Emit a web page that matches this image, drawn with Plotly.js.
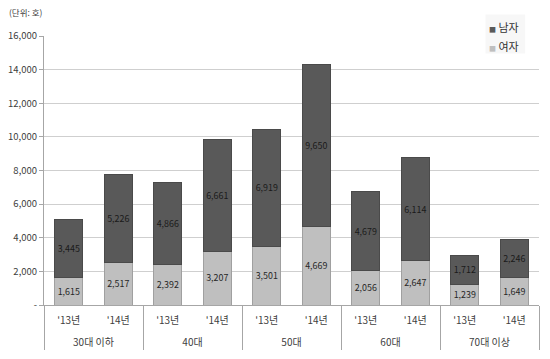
<!DOCTYPE html>
<html>
<head>
<meta charset="utf-8">
<script src="https://cdn.plot.ly/plotly-3.0.1.min.js"></script>
<style>html,body{margin:0;padding:0;background:#fff;}#chart{width:550px;height:359px;}</style>
</head>
<body>
<div id="chart"></div>
<script>
const groups = ['30대 이하','30대 이하','40대','40대','50대','50대','60대','60대','70대 이상','70대 이상'];
const years = ["'13년","'14년","'13년","'14년","'13년","'14년","'13년","'14년","'13년","'14년"];
const female = [1615, 2517, 2392, 3207, 3501, 4669, 2056, 2647, 1239, 1649];
const male = [3445, 5226, 4866, 6661, 6919, 9650, 4679, 6114, 1712, 2246];
const yTickVals = [0, 2000, 4000, 6000, 8000, 10000, 12000, 14000, 16000];
const yTickText = ['-', '2,000', '4,000', '6,000', '8,000', '10,000', '12,000', '14,000', '16,000'];
const seriesNames = ['여자', '남자'];
const seriesColors = ['#bfbfbf', '#595959'];

const fmt = v => v.toLocaleString('en-US');
const font = "'Noto Sans CJK KR', 'Noto Sans', sans-serif";
// sub-category labels with a small spacer line to push group labels lower
const yearLabels = years.map(y => y + '<br><span style="font-size:5px">&nbsp;</span>');

const traces = [
  {
    type: 'bar', name: seriesNames[0], x: [groups, yearLabels], y: female,
    marker: {color: seriesColors[0], line: {color: '#a0a0a0', width: 1}},
    text: female.map(fmt), textposition: 'inside', insidetextanchor: 'middle',
    textfont: {family: font, size: 9, color: '#262626'}, textangle: 0,
    hoverinfo: 'none', showlegend: false
  },
  {
    type: 'bar', name: seriesNames[1], x: [groups, yearLabels], y: male,
    marker: {color: seriesColors[1], line: {color: '#4a4a4a', width: 1}},
    text: male.map(fmt), textposition: 'inside', insidetextanchor: 'middle',
    textfont: {family: font, size: 9, color: '#1a1a1a'}, textangle: 0,
    hoverinfo: 'none', showlegend: false
  }
];

const legendEntry = i => '<span style="color:' + seriesColors[i] + ';font-size:7px">■</span> ' + seriesNames[i];

const layout = {
  width: 550, height: 359,
  margin: {l: 44, r: 11, t: 36, b: 54},
  paper_bgcolor: '#fff', plot_bgcolor: '#fff',
  barmode: 'stack', bargap: 0.43,
  font: {family: font, size: 9, color: '#404040'},
  showlegend: false,
  xaxis: {
    type: 'multicategory',
    showline: true, linecolor: '#a6a6a6', linewidth: 1,
    showdividers: true, dividercolor: '#a6a6a6', dividerwidth: 1,
    ticks: '', tickfont: {family: font, size: 10, color: '#404040'},
    ticklabelstandoff: 6,
    showgrid: false, zeroline: false
  },
  yaxis: {
    range: [0, 16000], tickvals: yTickVals, ticktext: yTickText,
    showgrid: true, gridcolor: '#cfcfcf', gridwidth: 1,
    showline: true, linecolor: '#a6a6a6', linewidth: 1,
    ticks: 'outside', ticklen: 4, tickcolor: '#a6a6a6',
    tickfont: {family: font, size: 9.5, color: '#404040'},
    zeroline: false, fixedrange: true
  },
  shapes: [{
    type: 'rect', xref: 'paper', yref: 'paper', layer: 'above',
    x0: 0.892, x1: 0.972, y0: 0.935, y1: 1.08,
    fillcolor: '#f7f7f7', line: {width: 0}
  }],
  annotations: [
    {
      text: '(단위: 호)', xref: 'paper', yref: 'paper',
      x: -0.075, y: 1.09, xanchor: 'left', yanchor: 'middle', showarrow: false,
      font: {family: font, size: 8.5, color: '#404040'}
    },
    {
      text: legendEntry(1), xref: 'paper', yref: 'paper',
      x: 0.895, y: (305 - 27) / 269, xanchor: 'left', yanchor: 'middle', showarrow: false,
      font: {family: font, size: 11, color: '#333333'}
    },
    {
      text: legendEntry(0), xref: 'paper', yref: 'paper',
      x: 0.895, y: (305 - 46) / 269, xanchor: 'left', yanchor: 'middle', showarrow: false,
      font: {family: font, size: 11, color: '#333333'}
    }
  ]
};

Plotly.newPlot('chart', traces, layout, {staticPlot: true, displayModeBar: false});
</script>
</body>
</html>
